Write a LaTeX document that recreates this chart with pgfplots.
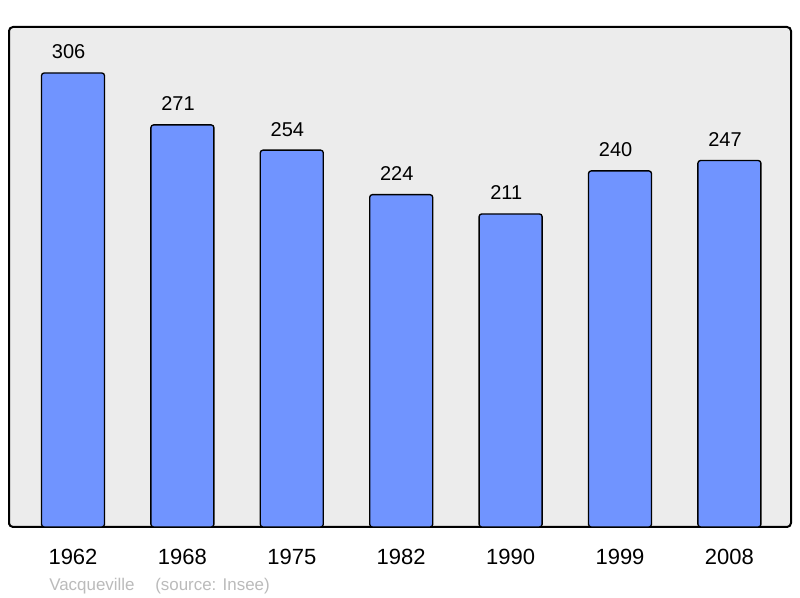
\documentclass[border=0pt]{standalone}
\usepackage{pgfplots}
\pgfplotsset{compat=1.18}
\usepackage{fontspec}
\setmainfont{Liberation Sans}
\definecolor{barblue}{HTML}{7094FF}
\definecolor{bggray}{HTML}{ECECEC}
\definecolor{footgray}{HTML}{BBBBBB}
\begin{document}
\begin{tikzpicture}
\useasboundingbox (0,0) rectangle (600pt,448.5pt);
\fill[white] (0,0) rectangle (600pt,448.5pt);
\begin{axis}[
  at={(6.75pt,53.25pt)}, anchor=south west,
  scale only axis, width=586.5pt, height=375pt,
  xmin=-0.585, xmax=6.563, ymin=0, ymax=337,
  axis background/.style={fill=bggray},
  axis line style={line width=1.5pt, rounded corners=3pt},
  ybar, bar width=47.25pt,
  xtick={0,...,6}, xticklabels={1962,1968,1975,1982,1990,1999,2008},
  xtick style={draw=none}, ytick=\empty,
  xticklabel style={anchor=base, yshift=-24pt, font=\fontsize{16.5pt}{18pt}\selectfont},
  nodes near coords,
  every node near coord/.append style={anchor=base, yshift=10.5pt, xshift=-3.3pt, font=\fontsize{15pt}{17pt}\selectfont, black},
  /pgf/number format/assume math mode=true,
]
\addplot[fill=barblue, draw=black, line width=1pt, rounded corners=2pt] coordinates {
(0,306) (1,271) (2,254) (3,224) (4,211) (5,240) (6,247)};
\end{axis}
\node[anchor=base west, text=footgray, font=\fontsize{12.7pt}{14pt}\selectfont, inner sep=0pt] at (36.75pt,5.3pt) {Vacqueville};
\node[anchor=base west, text=footgray, font=\fontsize{12.7pt}{14pt}\selectfont, inner sep=0pt] at (116.25pt,5.3pt) {(source: Insee)};
\end{tikzpicture}
\end{document}
